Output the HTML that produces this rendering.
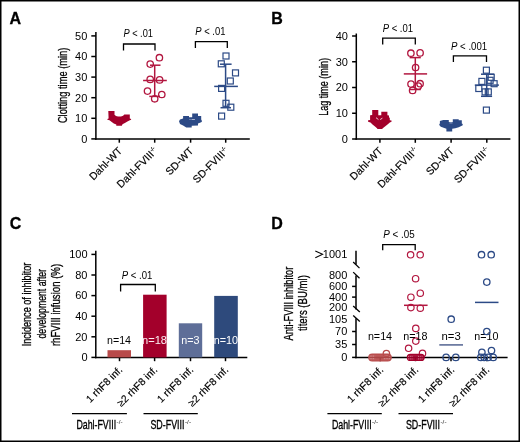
<!DOCTYPE html>
<html><head><meta charset="utf-8"><style>
html,body{margin:0;padding:0;background:#fff;width:520px;height:442px;overflow:hidden}
svg{display:block;will-change:transform}
text{font-family:"Liberation Sans",sans-serif}
</style></head><body>
<svg width="520" height="442" viewBox="0 0 520 442" font-family="Liberation Sans, sans-serif">
<rect width="520" height="442" fill="#fff"/>
<line x1="95.9" y1="32" x2="95.9" y2="139.65" stroke="#000" stroke-width="1.5"/>
<line x1="95.15" y1="138.9" x2="249.8" y2="138.9" stroke="#000" stroke-width="1.5"/>
<line x1="91.3" y1="138.9" x2="95.9" y2="138.9" stroke="#000" stroke-width="1.5"/>
<text x="87.3" y="142.7" font-size="11" text-anchor="end" fill="#000">0</text>
<line x1="91.3" y1="118.3" x2="95.9" y2="118.3" stroke="#000" stroke-width="1.5"/>
<text x="87.3" y="122.1" font-size="11" text-anchor="end" fill="#000">10</text>
<line x1="91.3" y1="97.7" x2="95.9" y2="97.7" stroke="#000" stroke-width="1.5"/>
<text x="87.3" y="101.5" font-size="11" text-anchor="end" fill="#000">20</text>
<line x1="91.3" y1="77.1" x2="95.9" y2="77.1" stroke="#000" stroke-width="1.5"/>
<text x="87.3" y="80.9" font-size="11" text-anchor="end" fill="#000">30</text>
<line x1="91.3" y1="56.5" x2="95.9" y2="56.5" stroke="#000" stroke-width="1.5"/>
<text x="87.3" y="60.3" font-size="11" text-anchor="end" fill="#000">40</text>
<line x1="91.3" y1="35.9" x2="95.9" y2="35.9" stroke="#000" stroke-width="1.5"/>
<text x="87.3" y="39.7" font-size="11" text-anchor="end" fill="#000">50</text>
<line x1="119.3" y1="138.9" x2="119.3" y2="142.7" stroke="#000" stroke-width="1.5"/>
<line x1="154.7" y1="138.9" x2="154.7" y2="142.7" stroke="#000" stroke-width="1.5"/>
<line x1="190.6" y1="138.9" x2="190.6" y2="142.7" stroke="#000" stroke-width="1.5"/>
<line x1="225.7" y1="138.9" x2="225.7" y2="142.7" stroke="#000" stroke-width="1.5"/>
<text transform="translate(67.3 85.4) rotate(-90)" font-size="13.3" text-anchor="middle" textLength="75.4" lengthAdjust="spacingAndGlyphs" stroke="#000" stroke-width="0.3">Clotting time (min)</text>
<text transform="translate(122.8 151.5) rotate(-45)" font-size="10.5" text-anchor="end" stroke="#000" stroke-width="0.15">Dahl-WT</text>
<text transform="translate(158.2 151.5) rotate(-45)" font-size="10.5" text-anchor="end" stroke="#000" stroke-width="0.15">Dahl-FVIII<tspan font-size="5.5" dy="-4">-/-</tspan></text>
<text transform="translate(194.1 151.5) rotate(-45)" font-size="10.5" text-anchor="end" stroke="#000" stroke-width="0.15">SD-WT</text>
<text transform="translate(229.2 151.5) rotate(-45)" font-size="10.5" text-anchor="end" stroke="#000" stroke-width="0.15">SD-FVIII<tspan font-size="5.5" dy="-4">-/-</tspan></text>
<text x="123.4" y="37.10" font-size="10.2" textLength="29.6" lengthAdjust="spacingAndGlyphs"><tspan font-style="italic">P</tspan> &lt; .01</text>
<path d="M123.5 50.5 V44 H155 V50.5" fill="none" stroke="#000" stroke-width="1.3"/>
<text x="195.3" y="35.20" font-size="10.2" textLength="30.2" lengthAdjust="spacingAndGlyphs"><tspan font-style="italic">P</tspan> &lt; .01</text>
<path d="M195.4 48.1 V41.7 H227.3 V48.1" fill="none" stroke="#000" stroke-width="1.3"/>
<path d="M108.3 111.1 H114.5 V114.8 L116 116 L118 116.6 H121 L123.1 115.7 L124.3 114.5 H129.8 V118.5 L131.1 119.1 V119.8 L129.8 120.2 L127.4 121.5 L124.9 123.1 L122.5 124.3 L121.8 125.8 H116.3 V124.6 L113.8 123.4 L111.4 121.8 L109.5 120.3 L107.4 119.8 V119.1 L108.6 118.5 Z" fill="#a3002b"/>
<circle cx="159.4" cy="57.7" r="3.2" fill="none" stroke="#b2163f" stroke-width="1.3"/>
<circle cx="150.2" cy="64.1" r="3.2" fill="none" stroke="#b2163f" stroke-width="1.3"/>
<circle cx="150.2" cy="79.4" r="3.2" fill="none" stroke="#b2163f" stroke-width="1.3"/>
<circle cx="159.6" cy="79.9" r="3.2" fill="none" stroke="#b2163f" stroke-width="1.3"/>
<circle cx="147.5" cy="91.1" r="3.2" fill="none" stroke="#b2163f" stroke-width="1.3"/>
<circle cx="161.8" cy="94.5" r="3.2" fill="none" stroke="#b2163f" stroke-width="1.3"/>
<circle cx="154.7" cy="98.8" r="3.2" fill="none" stroke="#b2163f" stroke-width="1.3"/>
<line x1="154.7" y1="65.2" x2="154.7" y2="96.4" stroke="#b2163f" stroke-width="1.5"/>
<line x1="150" y1="65.2" x2="160.5" y2="65.2" stroke="#b2163f" stroke-width="1.5"/>
<line x1="143.1" y1="80.5" x2="166.8" y2="80.5" stroke="#b2163f" stroke-width="1.5"/>
<line x1="149.3" y1="96.4" x2="160" y2="96.4" stroke="#b2163f" stroke-width="1.5"/>
<path d="M183.1 115.9 H189 V117.2 H192.2 V113.6 H198 V115.9 H201.2 V119.5 L202.1 121.3 L201.2 122.2 L198 123.6 V125.4 L191.7 125.8 V127.4 H186.3 L183.1 125.4 L180 124 L179 121.3 L180 119.5 L183.1 118.6 Z" fill="#2c4a86"/>
<line x1="189.6" y1="119.5" x2="190.4" y2="119.5" stroke="#fff" stroke-width="0.7"/>
<line x1="191.5" y1="119.5" x2="194.9" y2="119.5" stroke="#dde" stroke-width="0.7"/>
<rect x="223.00" y="53.00" width="6.0" height="6.0" fill="none" stroke="#2c4a86" stroke-width="1.2"/>
<rect x="218.30" y="60.80" width="6.0" height="6.0" fill="none" stroke="#2c4a86" stroke-width="1.2"/>
<rect x="232.50" y="69.90" width="6.0" height="6.0" fill="none" stroke="#2c4a86" stroke-width="1.2"/>
<rect x="227.30" y="78.00" width="6.0" height="6.0" fill="none" stroke="#2c4a86" stroke-width="1.2"/>
<rect x="218.60" y="85.40" width="6.0" height="6.0" fill="none" stroke="#2c4a86" stroke-width="1.2"/>
<rect x="223.00" y="100.30" width="6.0" height="6.0" fill="none" stroke="#2c4a86" stroke-width="1.2"/>
<rect x="227.80" y="104.20" width="6.0" height="6.0" fill="none" stroke="#2c4a86" stroke-width="1.2"/>
<rect x="218.60" y="113.10" width="6.0" height="6.0" fill="none" stroke="#2c4a86" stroke-width="1.2"/>
<line x1="225.6" y1="64.2" x2="225.6" y2="107.7" stroke="#2c4a86" stroke-width="1.5"/>
<line x1="220" y1="64.2" x2="231.6" y2="64.2" stroke="#2c4a86" stroke-width="1.5"/>
<line x1="214.2" y1="86.4" x2="237.9" y2="86.4" stroke="#2c4a86" stroke-width="1.5"/>
<line x1="220.5" y1="107.7" x2="231" y2="107.7" stroke="#2c4a86" stroke-width="1.5"/>
<line x1="356.3" y1="33.5" x2="356.3" y2="139.75" stroke="#000" stroke-width="1.5"/>
<line x1="355.55" y1="139" x2="510.4" y2="139" stroke="#000" stroke-width="1.5"/>
<line x1="352.1" y1="139" x2="356.3" y2="139" stroke="#000" stroke-width="1.5"/>
<text x="347.9" y="142.8" font-size="11" text-anchor="end" fill="#000">0</text>
<line x1="352.1" y1="113.25" x2="356.3" y2="113.25" stroke="#000" stroke-width="1.5"/>
<text x="347.9" y="117.05" font-size="11" text-anchor="end" fill="#000">10</text>
<line x1="352.1" y1="87.5" x2="356.3" y2="87.5" stroke="#000" stroke-width="1.5"/>
<text x="347.9" y="91.3" font-size="11" text-anchor="end" fill="#000">20</text>
<line x1="352.1" y1="61.75" x2="356.3" y2="61.75" stroke="#000" stroke-width="1.5"/>
<text x="347.9" y="65.55" font-size="11" text-anchor="end" fill="#000">30</text>
<line x1="352.1" y1="36" x2="356.3" y2="36" stroke="#000" stroke-width="1.5"/>
<text x="347.9" y="39.8" font-size="11" text-anchor="end" fill="#000">40</text>
<line x1="379.9" y1="139" x2="379.9" y2="142.8" stroke="#000" stroke-width="1.5"/>
<line x1="415.3" y1="139" x2="415.3" y2="142.8" stroke="#000" stroke-width="1.5"/>
<line x1="451.1" y1="139" x2="451.1" y2="142.8" stroke="#000" stroke-width="1.5"/>
<line x1="486.8" y1="139" x2="486.8" y2="142.8" stroke="#000" stroke-width="1.5"/>
<text transform="translate(328.0 86.9) rotate(-90)" font-size="13.3" text-anchor="middle" textLength="57.6" lengthAdjust="spacingAndGlyphs" stroke="#000" stroke-width="0.3">Lag time (min)</text>
<text transform="translate(383.4 151.5) rotate(-45)" font-size="10.5" text-anchor="end" stroke="#000" stroke-width="0.15">Dahl-WT</text>
<text transform="translate(418.8 151.5) rotate(-45)" font-size="10.5" text-anchor="end" stroke="#000" stroke-width="0.15">Dahl-FVIII<tspan font-size="5.5" dy="-4">-/-</tspan></text>
<text transform="translate(454.6 151.5) rotate(-45)" font-size="10.5" text-anchor="end" stroke="#000" stroke-width="0.15">SD-WT</text>
<text transform="translate(490.3 151.5) rotate(-45)" font-size="10.5" text-anchor="end" stroke="#000" stroke-width="0.15">SD-FVIII<tspan font-size="5.5" dy="-4">-/-</tspan></text>
<text x="382.7" y="32.20" font-size="10.2" textLength="30.4" lengthAdjust="spacingAndGlyphs"><tspan font-style="italic">P</tspan> &lt; .01</text>
<path d="M382.7 44.6 V38.1 H415.3 V44.6" fill="none" stroke="#000" stroke-width="1.3"/>
<text x="451.0" y="49.60" font-size="10.2" textLength="36.2" lengthAdjust="spacingAndGlyphs"><tspan font-style="italic">P</tspan> &lt; .001</text>
<path d="M453.4 61.9 V55.9 H486.5 V61.9" fill="none" stroke="#000" stroke-width="1.3"/>
<path d="M372.2 110.1 H378.3 V115.2 H381.3 V111.8 H387.4 V115.2 L389 115.5 V117.2 L389.8 118 V120.3 L391.5 120.5 V121.8 L389.8 122.4 L387.5 124.5 L385 126.5 L382.4 128.5 V129.1 H377.3 V128.5 L375 126.5 L372.5 124.5 L370.5 122.4 L368.1 121.8 V120.3 L370.1 119.9 V115.2 L372.2 115 Z" fill="#a3002b"/>
<path d="M376 117.7 L378.4 119.5 M380.2 119.5 L382.4 118.2" stroke="#fff" stroke-width="0.9" opacity="0.9"/>
<circle cx="410.9" cy="53.2" r="3.2" fill="none" stroke="#b2163f" stroke-width="1.3"/>
<circle cx="420.1" cy="52.9" r="3.2" fill="none" stroke="#b2163f" stroke-width="1.3"/>
<circle cx="415.6" cy="67.5" r="3.2" fill="none" stroke="#b2163f" stroke-width="1.3"/>
<circle cx="411" cy="84.1" r="3.2" fill="none" stroke="#b2163f" stroke-width="1.3"/>
<circle cx="420.1" cy="83.7" r="3.2" fill="none" stroke="#b2163f" stroke-width="1.3"/>
<circle cx="418.3" cy="86.1" r="3.2" fill="none" stroke="#b2163f" stroke-width="1.3"/>
<circle cx="412.6" cy="90.4" r="3.2" fill="none" stroke="#b2163f" stroke-width="1.3"/>
<line x1="415.3" y1="57.6" x2="415.3" y2="89.5" stroke="#b2163f" stroke-width="1.5"/>
<line x1="409.6" y1="57.6" x2="420.8" y2="57.6" stroke="#b2163f" stroke-width="1.5"/>
<line x1="403.8" y1="73.9" x2="427.1" y2="73.9" stroke="#b2163f" stroke-width="1.5"/>
<line x1="409.6" y1="89.5" x2="420.8" y2="89.5" stroke="#b2163f" stroke-width="1.5"/>
<path d="M443.3 120 H448.8 V122.1 H452.8 V119.2 H458.7 V120.2 H461.8 V123.4 L462.7 124 V125.2 L461.8 125.8 L458.7 127.3 L455.3 128.2 L452.2 128.8 V131.5 H446.4 V128.8 L443.6 127.8 L440.8 126.7 L439.6 125.5 L439.2 124.2 L439.9 123.5 V121 Z" fill="#2c4a86"/>
<line x1="449.5" y1="122.9" x2="452.5" y2="122.9" stroke="#cdd6e6" stroke-width="0.7"/>
<rect x="483.40" y="67.20" width="6.0" height="6.0" fill="none" stroke="#2c4a86" stroke-width="1.2"/>
<rect x="488.20" y="74.30" width="6.0" height="6.0" fill="none" stroke="#2c4a86" stroke-width="1.2"/>
<rect x="478.90" y="78.40" width="6.0" height="6.0" fill="none" stroke="#2c4a86" stroke-width="1.2"/>
<rect x="487.10" y="77.30" width="6.0" height="6.0" fill="none" stroke="#2c4a86" stroke-width="1.2"/>
<rect x="491.10" y="80.70" width="6.0" height="6.0" fill="none" stroke="#2c4a86" stroke-width="1.2"/>
<rect x="475.80" y="85.50" width="6.0" height="6.0" fill="none" stroke="#2c4a86" stroke-width="1.2"/>
<rect x="482.10" y="88.90" width="6.0" height="6.0" fill="none" stroke="#2c4a86" stroke-width="1.2"/>
<rect x="485.30" y="88.90" width="6.0" height="6.0" fill="none" stroke="#2c4a86" stroke-width="1.2"/>
<rect x="483.40" y="107.10" width="6.0" height="6.0" fill="none" stroke="#2c4a86" stroke-width="1.2"/>
<line x1="486.7" y1="74.2" x2="486.7" y2="96.3" stroke="#2c4a86" stroke-width="1.5"/>
<line x1="481" y1="74.2" x2="494.1" y2="74.2" stroke="#2c4a86" stroke-width="1.5"/>
<line x1="474.8" y1="85.1" x2="498.9" y2="85.1" stroke="#2c4a86" stroke-width="1.5"/>
<line x1="481" y1="96.3" x2="492.1" y2="96.3" stroke="#2c4a86" stroke-width="1.5"/>
<line x1="95.8" y1="250.7" x2="95.8" y2="358.15" stroke="#000" stroke-width="1.5"/>
<line x1="95.05" y1="357.4" x2="247.3" y2="357.4" stroke="#000" stroke-width="1.5"/>
<line x1="91.4" y1="357.4" x2="95.8" y2="357.4" stroke="#000" stroke-width="1.5"/>
<text x="87.5" y="361.2" font-size="11" text-anchor="end" fill="#000">0</text>
<line x1="91.4" y1="336.8" x2="95.8" y2="336.8" stroke="#000" stroke-width="1.5"/>
<text x="87.5" y="340.6" font-size="11" text-anchor="end" fill="#000">20</text>
<line x1="91.4" y1="316.2" x2="95.8" y2="316.2" stroke="#000" stroke-width="1.5"/>
<text x="87.5" y="320" font-size="11" text-anchor="end" fill="#000">40</text>
<line x1="91.4" y1="295.6" x2="95.8" y2="295.6" stroke="#000" stroke-width="1.5"/>
<text x="87.5" y="299.4" font-size="11" text-anchor="end" fill="#000">60</text>
<line x1="91.4" y1="275" x2="95.8" y2="275" stroke="#000" stroke-width="1.5"/>
<text x="87.5" y="278.8" font-size="11" text-anchor="end" fill="#000">80</text>
<line x1="91.4" y1="254.4" x2="95.8" y2="254.4" stroke="#000" stroke-width="1.5"/>
<text x="87.5" y="258.2" font-size="11" text-anchor="end" fill="#000">100</text>
<line x1="119.5" y1="357.4" x2="119.5" y2="361.2" stroke="#000" stroke-width="1.5"/>
<line x1="154.6" y1="357.4" x2="154.6" y2="361.2" stroke="#000" stroke-width="1.5"/>
<line x1="190.5" y1="357.4" x2="190.5" y2="361.2" stroke="#000" stroke-width="1.5"/>
<line x1="225.5" y1="357.4" x2="225.5" y2="361.2" stroke="#000" stroke-width="1.5"/>
<rect x="107.5" y="350.2" width="23.5" height="7.2" fill="#b84a4a"/>
<rect x="143.1" y="294.7" width="23.5" height="62.7" fill="#a3002b"/>
<rect x="178.8" y="323.3" width="23.4" height="34.1" fill="#5e6e98"/>
<rect x="214.2" y="295.9" width="23.6" height="61.5" fill="#2e4a7c"/>
<text x="119.05" y="343.6" font-size="10.2" text-anchor="middle" fill="#000" textLength="24.0" lengthAdjust="spacingAndGlyphs">n=14</text>
<text x="154.55" y="343.6" font-size="10.2" text-anchor="middle" fill="#fbeef1" textLength="25.0" lengthAdjust="spacingAndGlyphs">n=18</text>
<text x="190.45" y="343.6" font-size="10.2" text-anchor="middle" fill="#fff" textLength="18.2" lengthAdjust="spacingAndGlyphs">n=3</text>
<text x="225.8" y="343.6" font-size="10.2" text-anchor="middle" fill="#fff" textLength="24.2" lengthAdjust="spacingAndGlyphs">n=10</text>
<text x="121.8" y="278.70" font-size="10.2" textLength="30.6" lengthAdjust="spacingAndGlyphs"><tspan font-style="italic">P</tspan> &lt; .01</text>
<path d="M120.6 291.4 V284.5 H155.3 V291.4" fill="none" stroke="#000" stroke-width="1.3"/>
<text transform="translate(31.4 304.5) rotate(-90)" font-size="13.5" text-anchor="middle" textLength="83.6" lengthAdjust="spacingAndGlyphs" stroke="#000" stroke-width="0.3">Incidence of inhibitor</text>
<text transform="translate(46.2 303.7) rotate(-90)" font-size="13.5" text-anchor="middle" textLength="69.6" lengthAdjust="spacingAndGlyphs" stroke="#000" stroke-width="0.3">development after</text>
<text transform="translate(60.0 305.0) rotate(-90)" font-size="13.5" text-anchor="middle" textLength="82.2" lengthAdjust="spacingAndGlyphs" stroke="#000" stroke-width="0.3">rhFVIII infusion (%)</text>
<text transform="translate(123.0 370.5) rotate(-45)" font-size="10.3" text-anchor="end" stroke="#000" stroke-width="0.15">1 rhF8 inf.</text>
<text transform="translate(158.0 370.5) rotate(-45)" font-size="10.3" text-anchor="end" stroke="#000" stroke-width="0.15">&#8805;2 rhF8 inf.</text>
<text transform="translate(194.0 370.5) rotate(-45)" font-size="10.3" text-anchor="end" stroke="#000" stroke-width="0.15">1 rhF8 inf.</text>
<text transform="translate(229.0 370.5) rotate(-45)" font-size="10.3" text-anchor="end" stroke="#000" stroke-width="0.15">&#8805;2 rhF8 inf.</text>
<line x1="72" y1="413.7" x2="126.9" y2="413.7" stroke="#000" stroke-width="1.3"/>
<line x1="143.5" y1="413.6" x2="197.8" y2="413.6" stroke="#000" stroke-width="1.3"/>
<text x="76.4" y="428.70" font-size="13" textLength="39.7" lengthAdjust="spacingAndGlyphs" stroke="#000" stroke-width="0.35">Dahl-FVIII</text>
<text x="116.60000000000001" y="423.6" font-size="6" fill="#222" textLength="6" lengthAdjust="spacingAndGlyphs">-/-</text>
<text x="150.4" y="428.70" font-size="13" textLength="34.1" lengthAdjust="spacingAndGlyphs" stroke="#000" stroke-width="0.35">SD-FVIII</text>
<text x="185.0" y="423.6" font-size="6" fill="#222" textLength="6" lengthAdjust="spacingAndGlyphs">-/-</text>
<line x1="356" y1="250.7" x2="356" y2="264.5" stroke="#000" stroke-width="1.5"/>
<line x1="353.2" y1="262" x2="359.5" y2="268.1" stroke="#000" stroke-width="1.3"/>
<line x1="353.2" y1="272.1" x2="359.5" y2="278.3" stroke="#000" stroke-width="1.3"/>
<line x1="356" y1="275.5" x2="356" y2="309.5" stroke="#000" stroke-width="1.5"/>
<line x1="353.2" y1="306.1" x2="359.8" y2="312" stroke="#000" stroke-width="1.3"/>
<line x1="353.2" y1="315.4" x2="359.8" y2="321.4" stroke="#000" stroke-width="1.3"/>
<line x1="356" y1="318.3" x2="356" y2="358.15" stroke="#000" stroke-width="1.5"/>
<line x1="355.25" y1="357.4" x2="507.6" y2="357.4" stroke="#000" stroke-width="1.5"/>
<line x1="352.1" y1="286.4" x2="356" y2="286.4" stroke="#000" stroke-width="1.5"/>
<line x1="352.1" y1="297.1" x2="356" y2="297.1" stroke="#000" stroke-width="1.5"/>
<line x1="352.1" y1="331.5" x2="356" y2="331.5" stroke="#000" stroke-width="1.5"/>
<line x1="352.1" y1="344.5" x2="356" y2="344.5" stroke="#000" stroke-width="1.5"/>
<line x1="352.1" y1="357.4" x2="356" y2="357.4" stroke="#000" stroke-width="1.5"/>
<text x="347.3" y="258.3" font-size="11" text-anchor="end" fill="#000">1001</text>
<text x="347.3" y="279.4" font-size="11" text-anchor="end" fill="#000">800</text>
<text x="347.3" y="290.2" font-size="11" text-anchor="end" fill="#000">600</text>
<text x="347.3" y="300.9" font-size="11" text-anchor="end" fill="#000">400</text>
<text x="347.3" y="311.3" font-size="11" text-anchor="end" fill="#000">200</text>
<text x="347.3" y="323" font-size="11" text-anchor="end" fill="#000">105</text>
<text x="347.3" y="335.3" font-size="11" text-anchor="end" fill="#000">70</text>
<text x="347.3" y="348.3" font-size="11" text-anchor="end" fill="#000">35</text>
<text x="347.3" y="361.2" font-size="11" text-anchor="end" fill="#000">0</text>
<path d="M315.3 250.9 L322.6 254.3 L315.3 257.7" fill="none" stroke="#000" stroke-width="1.05"/>
<line x1="380.2" y1="357.4" x2="380.2" y2="361.2" stroke="#000" stroke-width="1.5"/>
<line x1="415.5" y1="357.4" x2="415.5" y2="361.2" stroke="#000" stroke-width="1.5"/>
<line x1="451" y1="357.4" x2="451" y2="361.2" stroke="#000" stroke-width="1.5"/>
<line x1="486.8" y1="357.4" x2="486.8" y2="361.2" stroke="#000" stroke-width="1.5"/>
<text transform="translate(292.9 303.6) rotate(-90)" font-size="13.5" text-anchor="middle" textLength="73.8" lengthAdjust="spacingAndGlyphs" stroke="#000" stroke-width="0.3">Anti-FVIII inhibitor</text>
<text transform="translate(307.2 303.1) rotate(-90)" font-size="13.5" text-anchor="middle" textLength="56.0" lengthAdjust="spacingAndGlyphs" stroke="#000" stroke-width="0.3">titers (BU/ml)</text>
<text x="383.3" y="238.30" font-size="10.2" textLength="31.4" lengthAdjust="spacingAndGlyphs"><tspan font-style="italic">P</tspan> &lt; .05</text>
<path d="M382.7 250.2 V244.6 H415.2 V250.2" fill="none" stroke="#000" stroke-width="1.3"/>
<rect x="368.8" y="354.1" width="22.400000000000023" height="6.900000000000023" rx="3.4500000000000113" fill="#b84a4a" fill-opacity="0.92" stroke="#b84a4a" stroke-width="1.2"/>
<line x1="369.6" y1="356.1" x2="375.1" y2="356.1" stroke="#fff" stroke-width="0.8" stroke-dasharray="1 0.8" opacity="0.55"/>
<line x1="369.6" y1="358.7" x2="375.1" y2="358.7" stroke="#fff" stroke-width="0.8" stroke-dasharray="1 0.8" opacity="0.55"/>
<line x1="383.8" y1="356.1" x2="391" y2="356.1" stroke="#fff" stroke-width="0.8" stroke-dasharray="1 0.8" opacity="0.55"/>
<line x1="383.8" y1="358.7" x2="391" y2="358.7" stroke="#fff" stroke-width="0.8" stroke-dasharray="1 0.8" opacity="0.55"/>
<circle cx="386.4" cy="353.5" r="3.2" fill="none" stroke="#b84a4a" stroke-width="1.3"/>
<circle cx="410.6" cy="254.8" r="3.2" fill="none" stroke="#b2163f" stroke-width="1.2"/>
<circle cx="420.2" cy="254.8" r="3.2" fill="none" stroke="#b2163f" stroke-width="1.2"/>
<circle cx="415.6" cy="278.7" r="3.2" fill="none" stroke="#b2163f" stroke-width="1.2"/>
<circle cx="420.3" cy="293.2" r="3.2" fill="none" stroke="#b2163f" stroke-width="1.2"/>
<circle cx="410.9" cy="297.2" r="3.2" fill="none" stroke="#b2163f" stroke-width="1.2"/>
<circle cx="410.9" cy="307.6" r="3.2" fill="none" stroke="#b2163f" stroke-width="1.2"/>
<circle cx="420.3" cy="308.2" r="3.2" fill="none" stroke="#b2163f" stroke-width="1.2"/>
<circle cx="415.8" cy="328.4" r="3.2" fill="none" stroke="#b2163f" stroke-width="1.2"/>
<circle cx="415.8" cy="341.1" r="3.2" fill="none" stroke="#b2163f" stroke-width="1.2"/>
<circle cx="408.6" cy="348.3" r="3.2" fill="none" stroke="#b2163f" stroke-width="1.2"/>
<circle cx="422.5" cy="353.4" r="3.2" fill="none" stroke="#b2163f" stroke-width="1.2"/>
<rect x="407.35" y="354.35" width="16.8" height="6.05" rx="3.025" fill="#a3002b" fill-opacity="0.92" stroke="#a3002b" stroke-width="1.2"/>
<line x1="408" y1="356.35" x2="412.5" y2="356.35" stroke="#fff" stroke-width="0.8" stroke-dasharray="1 0.8" opacity="0.55"/>
<line x1="408" y1="358.95" x2="412.5" y2="358.95" stroke="#fff" stroke-width="0.8" stroke-dasharray="1 0.8" opacity="0.55"/>
<line x1="418" y1="356.35" x2="423.5" y2="356.35" stroke="#fff" stroke-width="0.8" stroke-dasharray="1 0.8" opacity="0.55"/>
<line x1="418" y1="358.95" x2="423.5" y2="358.95" stroke="#fff" stroke-width="0.8" stroke-dasharray="1 0.8" opacity="0.55"/>
<line x1="404" y1="305.3" x2="427.6" y2="305.3" stroke="#b2163f" stroke-width="1.5"/>
<text x="415.45" y="339.8" font-size="10.2" text-anchor="middle" fill="#000" textLength="24.2" lengthAdjust="spacingAndGlyphs">n=18</text>
<text x="380" y="339.8" font-size="10.2" text-anchor="middle" fill="#000" textLength="24.2" lengthAdjust="spacingAndGlyphs">n=14</text>
<text x="451.15" y="339.8" font-size="10.2" text-anchor="middle" fill="#000" textLength="19.2" lengthAdjust="spacingAndGlyphs">n=3</text>
<text x="486.4" y="339.8" font-size="10.2" text-anchor="middle" fill="#000" textLength="24.1" lengthAdjust="spacingAndGlyphs">n=10</text>
<circle cx="451.2" cy="319.2" r="3.2" fill="none" stroke="#2c4a86" stroke-width="1.3"/>
<circle cx="446.1" cy="357.4" r="3.2" fill="none" stroke="#2c4a86" stroke-width="1.3"/>
<circle cx="455.8" cy="357.4" r="3.2" fill="none" stroke="#2c4a86" stroke-width="1.3"/>
<line x1="439.3" y1="344.9" x2="463" y2="344.9" stroke="#5e6e98" stroke-width="1.6"/>
<circle cx="481.5" cy="254.7" r="3.2" fill="none" stroke="#2c4a86" stroke-width="1.3"/>
<circle cx="491.2" cy="254.7" r="3.2" fill="none" stroke="#2c4a86" stroke-width="1.3"/>
<circle cx="486.8" cy="282.1" r="3.2" fill="none" stroke="#2c4a86" stroke-width="1.3"/>
<circle cx="486.8" cy="331.5" r="3.2" fill="none" stroke="#2c4a86" stroke-width="1.3"/>
<circle cx="481.9" cy="352.3" r="3.2" fill="none" stroke="#2c4a86" stroke-width="1.3"/>
<circle cx="491.5" cy="350.5" r="3.2" fill="none" stroke="#2c4a86" stroke-width="1.3"/>
<circle cx="480.8" cy="357.4" r="3.2" fill="none" stroke="#2c4a86" stroke-width="1.3"/>
<circle cx="484.2" cy="357.4" r="3.2" fill="none" stroke="#2c4a86" stroke-width="1.3"/>
<circle cx="488.1" cy="357.4" r="3.2" fill="none" stroke="#2c4a86" stroke-width="1.3"/>
<circle cx="493.2" cy="357.4" r="3.2" fill="none" stroke="#2c4a86" stroke-width="1.3"/>
<line x1="475" y1="302.4" x2="498.5" y2="302.4" stroke="#2c4a86" stroke-width="1.5"/>
<text transform="translate(384.0 370.5) rotate(-45)" font-size="10.3" text-anchor="end" stroke="#000" stroke-width="0.15">1 rhF8 inf.</text>
<text transform="translate(419.0 370.5) rotate(-45)" font-size="10.3" text-anchor="end" stroke="#000" stroke-width="0.15">&#8805;2 rhF8 inf.</text>
<text transform="translate(455.0 370.5) rotate(-45)" font-size="10.3" text-anchor="end" stroke="#000" stroke-width="0.15">1 rhF8 inf.</text>
<text transform="translate(490.0 370.5) rotate(-45)" font-size="10.3" text-anchor="end" stroke="#000" stroke-width="0.15">&#8805;2 rhF8 inf.</text>
<line x1="327.4" y1="413.6" x2="381.8" y2="413.6" stroke="#000" stroke-width="1.3"/>
<line x1="398.5" y1="413.6" x2="453" y2="413.6" stroke="#000" stroke-width="1.3"/>
<text x="331.9" y="428.70" font-size="13" textLength="39.7" lengthAdjust="spacingAndGlyphs" stroke="#000" stroke-width="0.35">Dahl-FVIII</text>
<text x="372.09999999999997" y="423.6" font-size="6" fill="#222" textLength="6" lengthAdjust="spacingAndGlyphs">-/-</text>
<text x="405.9" y="428.70" font-size="13" textLength="34.1" lengthAdjust="spacingAndGlyphs" stroke="#000" stroke-width="0.35">SD-FVIII</text>
<text x="440.5" y="423.6" font-size="6" fill="#222" textLength="6" lengthAdjust="spacingAndGlyphs">-/-</text>
<text x="9.4" y="23.5" font-size="16" text-anchor="start" fill="#000" font-weight="bold" stroke="#000" stroke-width="0.3">A</text>
<text x="271.2" y="23.5" font-size="16" text-anchor="start" fill="#000" font-weight="bold" stroke="#000" stroke-width="0.3">B</text>
<text x="9.8" y="229.1" font-size="16" text-anchor="start" fill="#000" font-weight="bold" stroke="#000" stroke-width="0.3">C</text>
<text x="271.2" y="229.1" font-size="16" text-anchor="start" fill="#000" font-weight="bold" stroke="#000" stroke-width="0.3">D</text>
<rect x="0.75" y="0.75" width="518.5" height="440.5" fill="none" stroke="#000" stroke-width="1.5"/>
</svg>
</body></html>
